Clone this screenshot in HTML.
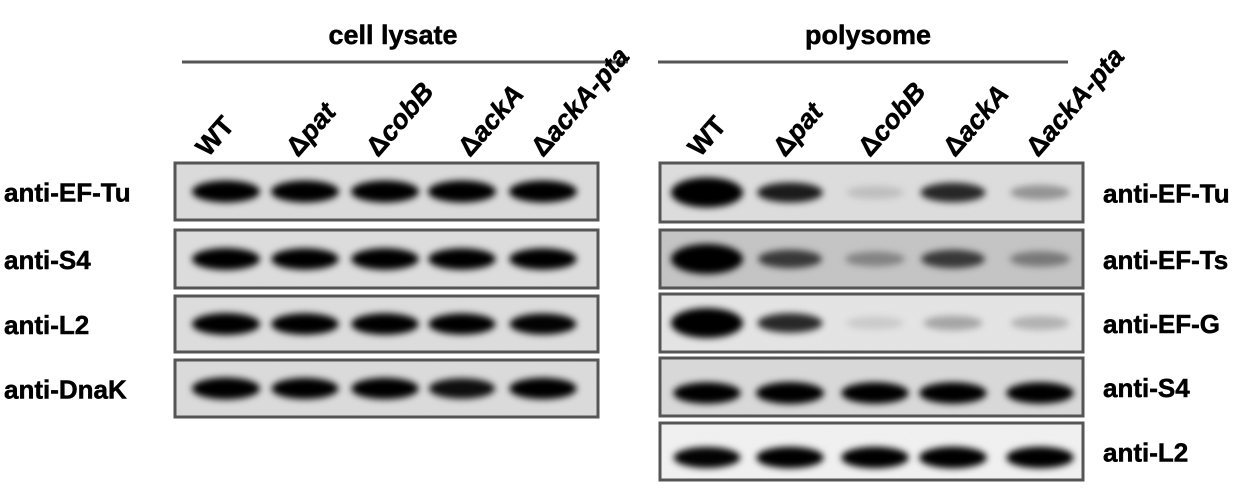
<!DOCTYPE html>
<html><head><meta charset="utf-8"><style>
body{margin:0;background:#fff;width:1249px;height:494px;overflow:hidden}
svg{display:block}
text{font-family:"Liberation Sans",Arial,sans-serif;font-weight:bold;fill:#000;stroke:#000;stroke-width:0.5}
</style></head><body>
<svg id="fig" width="1249" height="494">
<defs>
<filter id="blur" x="-50%" y="-100%" width="200%" height="300%"><feGaussianBlur stdDeviation="3.4"/></filter>
<filter id="noise" x="0" y="0" width="100%" height="100%"><feTurbulence type="fractalNoise" baseFrequency="0.9" numOctaves="2" seed="3"/><feColorMatrix values="0 0 0 0 0.5 0 0 0 0 0.5 0 0 0 0 0.5 0 0 0 0.12 0"/></filter>
</defs>
</svg>
<script>
const lanes=["WT","Δpat","ΔcobB","ΔackA","ΔackA-pta"];
const leftBlots=["anti-EF-Tu","anti-S4","anti-L2","anti-DnaK"];
const leftIntensity=[[1,1,1,1,1],[1,0.95,0.97,0.95,0.95],[1,0.95,0.95,0.92,0.9],[1,0.92,0.95,0.85,0.95]];
const rightBlots=["anti-EF-Tu","anti-EF-Ts","anti-EF-G","anti-S4","anti-L2"];
const rightIntensity=[[1,0.8,0.12,0.75,0.3],[1,0.65,0.3,0.65,0.35],[1,0.75,0.1,0.25,0.2],[0.95,1,0.95,0.95,0.95],[0.9,0.95,0.95,0.97,0.95]];
const svg=document.getElementById('fig');
const NS="http://www.w3.org/2000/svg";
function mk(t,a,p){const e=document.createElementNS(NS,t);for(const k in a)e.setAttribute(k,a[k]);(p||svg).appendChild(e);return e;}
const leftX=[226,305,385,462,543], rightX=[707,790,875,953,1040];
const leftLabelX=[208,298,378,470,543], rightLabelX=[700,785,870,955,1038];
const leftRows=[[163,220],[230,288],[296,352],[360,417]];
const rightRows=[[163,222],[230,288],[294,352],[358,416],[423,480]];
const rightBg=["#dedede","#c4c4c4","#e6e6e6","#dadada","#f3f3f3"];
function header(txt,x,x1,x2,name){
  const t=mk('text',{x:x,y:44,'font-size':27,'text-anchor':'middle'});t.textContent=txt;
  
  
  const l=mk('line',{x1:x1,x2:x2,y1:62,y2:62,stroke:'#555','stroke-width':3});
  
  
}
header('cell lysate',393,182,628,'cell-lysate');
header('polysome',868,658,1068,'polysome');
function laneLabels(xs,grp){
  lanes.forEach((n,i)=>{
    const t=mk('text',{transform:`translate(${xs[i]},158) rotate(-49)`,'font-size':27});
    
    
    if(n==='WT'){t.textContent='WT';}
    else{const a=mk('tspan',{},t);a.textContent='Δ';const b=mk('tspan',{'font-style':'italic'},t);b.textContent=n.slice(1);}
  });
}
laneLabels(leftLabelX,'lysate');laneLabels(rightLabelX,'polysome');
function blot(x1,x2,rows,xs,labels,data,bgs,labelX,anchor,grp){
  rows.forEach((r,ri)=>{
    const g=mk('g',{});
    
    
    mk('rect',{x:x1,y:r[0],width:x2-x1,height:r[1]-r[0],fill:bgs[ri]},g);
    mk('rect',{x:x1,y:r[0],width:x2-x1,height:r[1]-r[0],filter:'url(#noise)'},g);
    const cy=(r[0]+r[1])/2+ (grp==='polysome'&&ri>=3?6:0);
    data[ri].forEach((v,i)=>{
      const big=(grp==='polysome'&&i===0&&ri<3);
      const w=big?36:(28+6*v), h=big?15:(6+5*v);
      const e=mk('ellipse',{cx:xs[i],cy:cy,rx:w,ry:h,fill:'#000','fill-opacity':Math.min(1,v*1.1),filter:'url(#blur)'},g);
      
      
    });
    mk('rect',{x:x1,y:r[0],width:x2-x1,height:r[1]-r[0],fill:'none',stroke:'#555','stroke-width':3},g);
    const t=mk('text',{x:labelX,y:(r[0]+r[1])/2+10,'font-size':26,'text-anchor':anchor});
    t.textContent=labels[ri];
    
    
  });
}
blot(175,598,leftRows,leftX,leftBlots,leftIntensity,["#dcdcdc","#dedede","#dedede","#dcdcdc"],4,'start','lysate');
blot(660,1083,rightRows,rightX,rightBlots,rightIntensity,rightBg,1103,'start','polysome');
</script>
</body></html>
